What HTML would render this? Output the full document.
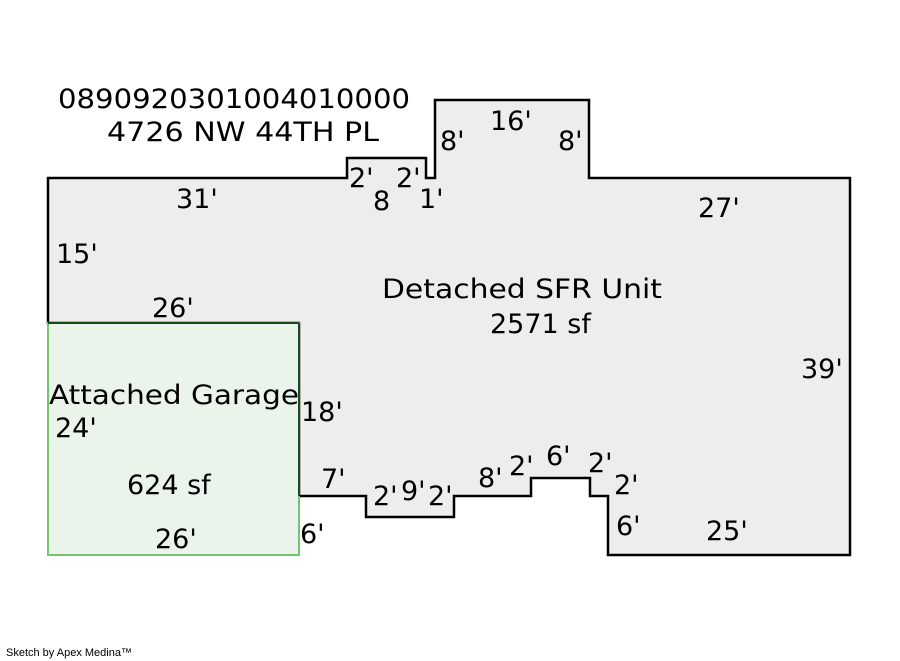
<!DOCTYPE html>
<html><head><meta charset="utf-8"><style>
html,body{margin:0;padding:0;background:#fff;width:900px;height:661px;overflow:hidden}
svg text{font-family:"DejaVu Sans","Liberation Sans",sans-serif;font-size:27px;fill:#000}
</style></head><body>
<svg width="900" height="661" viewBox="0 0 900 661" xmlns="http://www.w3.org/2000/svg">
<polygon points="48,178 347,178 347,158 426,158 426,178 435,178 435,100 589,100 589,178 850,178 850,555 608,555 608,496 590,496 590,478 531,478 531,496 454,496 454,517 366,517 366,496 299,496 299,323 48,323" fill="#ededed" stroke="#000" stroke-width="2.5"/>
<rect x="48" y="323" width="251" height="232" fill="#eaf4ea" stroke="#74c474" stroke-width="2"/>
<line x1="48" y1="323" x2="299" y2="323" stroke="#1a4a1a" stroke-width="2"/>
<line x1="299" y1="323" x2="299" y2="496" stroke="#1a4a1a" stroke-width="2"/>
<text x="58" y="108" textLength="352" lengthAdjust="spacingAndGlyphs">0890920301004010000</text>
<text x="107" y="141" textLength="272" lengthAdjust="spacingAndGlyphs">4726 NW 44TH PL</text>
<text x="176" y="208">31'</text>
<text x="56" y="263">15'</text>
<text x="152" y="317">26'</text>
<text x="382" y="298" textLength="280" lengthAdjust="spacingAndGlyphs">Detached SFR Unit</text>
<text x="490" y="333">2571 sf</text>
<text x="801" y="378">39'</text>
<text x="49" y="404" textLength="250" lengthAdjust="spacingAndGlyphs">Attached Garage</text>
<text x="301" y="421">18'</text>
<text x="55" y="437">24'</text>
<text x="127" y="494">624 sf</text>
<text x="155" y="548">26'</text>
<text x="698" y="217">27'</text>
<text x="490" y="130">16'</text>
<text x="440" y="150">8'</text>
<text x="558" y="150">8'</text>
<text x="349" y="187">2'</text>
<text x="373" y="210">8</text>
<text x="396" y="187">2'</text>
<text x="419" y="208">1'</text>
<text x="321" y="488">7'</text>
<text x="373" y="505">2'</text>
<text x="401" y="500">9'</text>
<text x="428" y="505">2'</text>
<text x="478" y="487">8'</text>
<text x="509" y="475">2'</text>
<text x="546" y="465">6'</text>
<text x="588" y="472">2'</text>
<text x="614" y="494">2'</text>
<text x="616" y="535">6'</text>
<text x="706" y="540">25'</text>
<text x="300" y="543">6'</text>
<text x="6" y="656" style="font-family:'Liberation Sans',sans-serif;font-size:11px">Sketch by Apex Medina™</text>
</svg>
</body></html>
